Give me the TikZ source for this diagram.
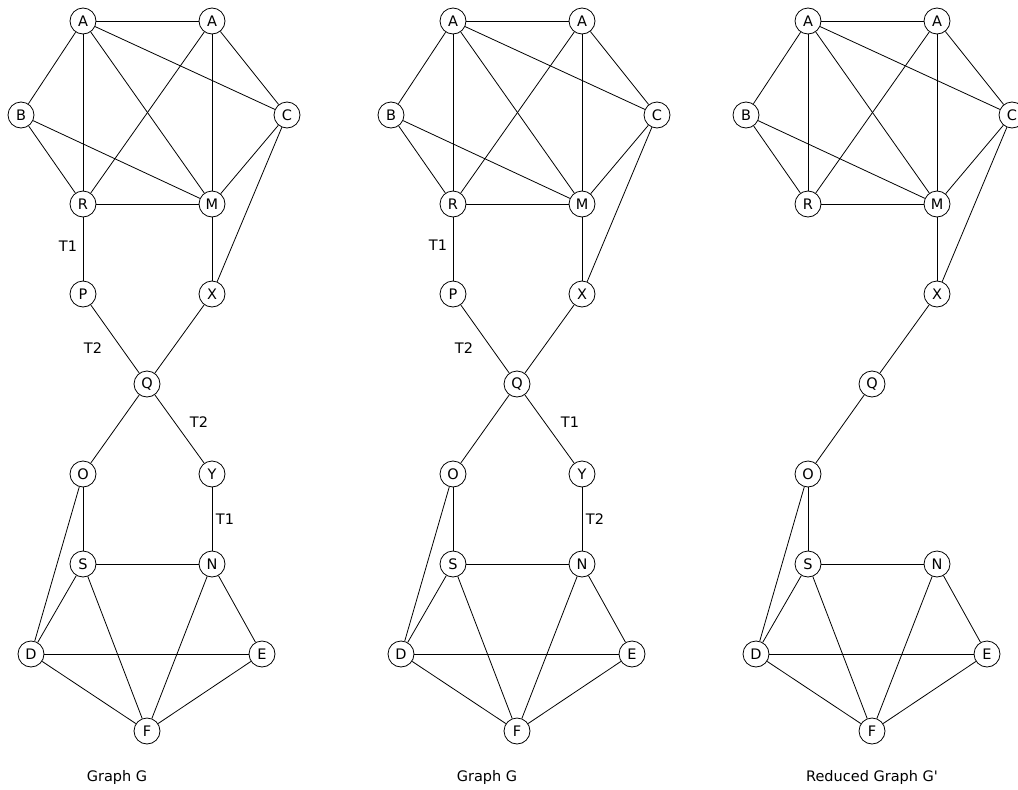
\documentclass[tikz,border=0pt]{standalone}
\usepackage{fontspec}
\setmainfont{DejaVu Sans}
\begin{document}
\begin{tikzpicture}[x=1pt,y=-1pt,
  v/.style={circle,draw,line width=0.8pt,minimum size=26pt,inner sep=0pt,fill=white,font=\fontsize{14.5}{15}\selectfont},
  e/.style={line width=0.8pt},
  lab/.style={font=\fontsize{14.5}{15}\selectfont},
  captxt/.style={font=\fontsize{14.5}{16}\selectfont}]
\useasboundingbox (0,0) rectangle (1018,790);
% nodes for the three graphs
\foreach \p/\dx in {l/0,m/370,r/725}{
  \begin{scope}[xshift=\dx]
    \node[v] (\p A1) at (83,21) {A};
    \node[v] (\p A2) at (212,21) {A};
    \node[v] (\p B) at (21,115) {B};
    \node[v] (\p C) at (287,115) {C};
    \node[v] (\p R) at (83,204) {R};
    \node[v] (\p M) at (212,204) {M};
    \node[v] (\p X) at (212,294) {X};
    \node[v] (\p Q) at (147,384) {Q};
    \node[v] (\p O) at (83,474) {O};
    \node[v] (\p S) at (83,564) {S};
    \node[v] (\p N) at (212,564) {N};
    \node[v] (\p D) at (31,654) {D};
    \node[v] (\p E) at (262,654) {E};
    \node[v] (\p F) at (147,731) {F};
  \end{scope}
  \foreach \a/\b in {A1/A2,A1/B,A1/R,A1/M,A1/C,A2/R,A2/M,A2/C,B/R,B/M,R/M,C/M,C/X,M/X,Q/O,O/S,O/D,S/N,S/D,S/F,N/F,N/E,D/E,D/F,E/F}{
    \draw[e] (\p\a) -- (\p\b);
  }
}
\draw[e] (rX) -- (rQ);
% P and Y nodes of the two full graphs
\foreach \p/\dx in {l/0,m/370}{
  \begin{scope}[xshift=\dx]
    \node[v] (\p P) at (83,294) {P};
    \node[v] (\p Y) at (212,474) {Y};
  \end{scope}
  \foreach \a/\b in {R/P,P/Q,X/Q,Q/Y,Y/N}{
    \draw[e] (\p\a) -- (\p\b);
  }
}
% edge labels
\node[lab] (l1) at (68,246) {T1};
\node[lab] (l2) at (93,348) {T2};
\node[lab] (l3) at (199,422) {T2};
\node[lab] (l4) at (225,519) {T1};
\node[lab] (m1) at (438,245) {T1};
\node[lab] (m2) at (464,348) {T2};
\node[lab] (m3) at (570,422) {T1};
\node[lab] (m4) at (595,519) {T2};
% captions
\node[captxt] (c1) at (117,777) {Graph G};
\node[captxt] (c2) at (487,777) {Graph G};
\node[captxt] (c3) at (872,777) {Reduced Graph G\textquotesingle};
\end{tikzpicture}
\end{document}
